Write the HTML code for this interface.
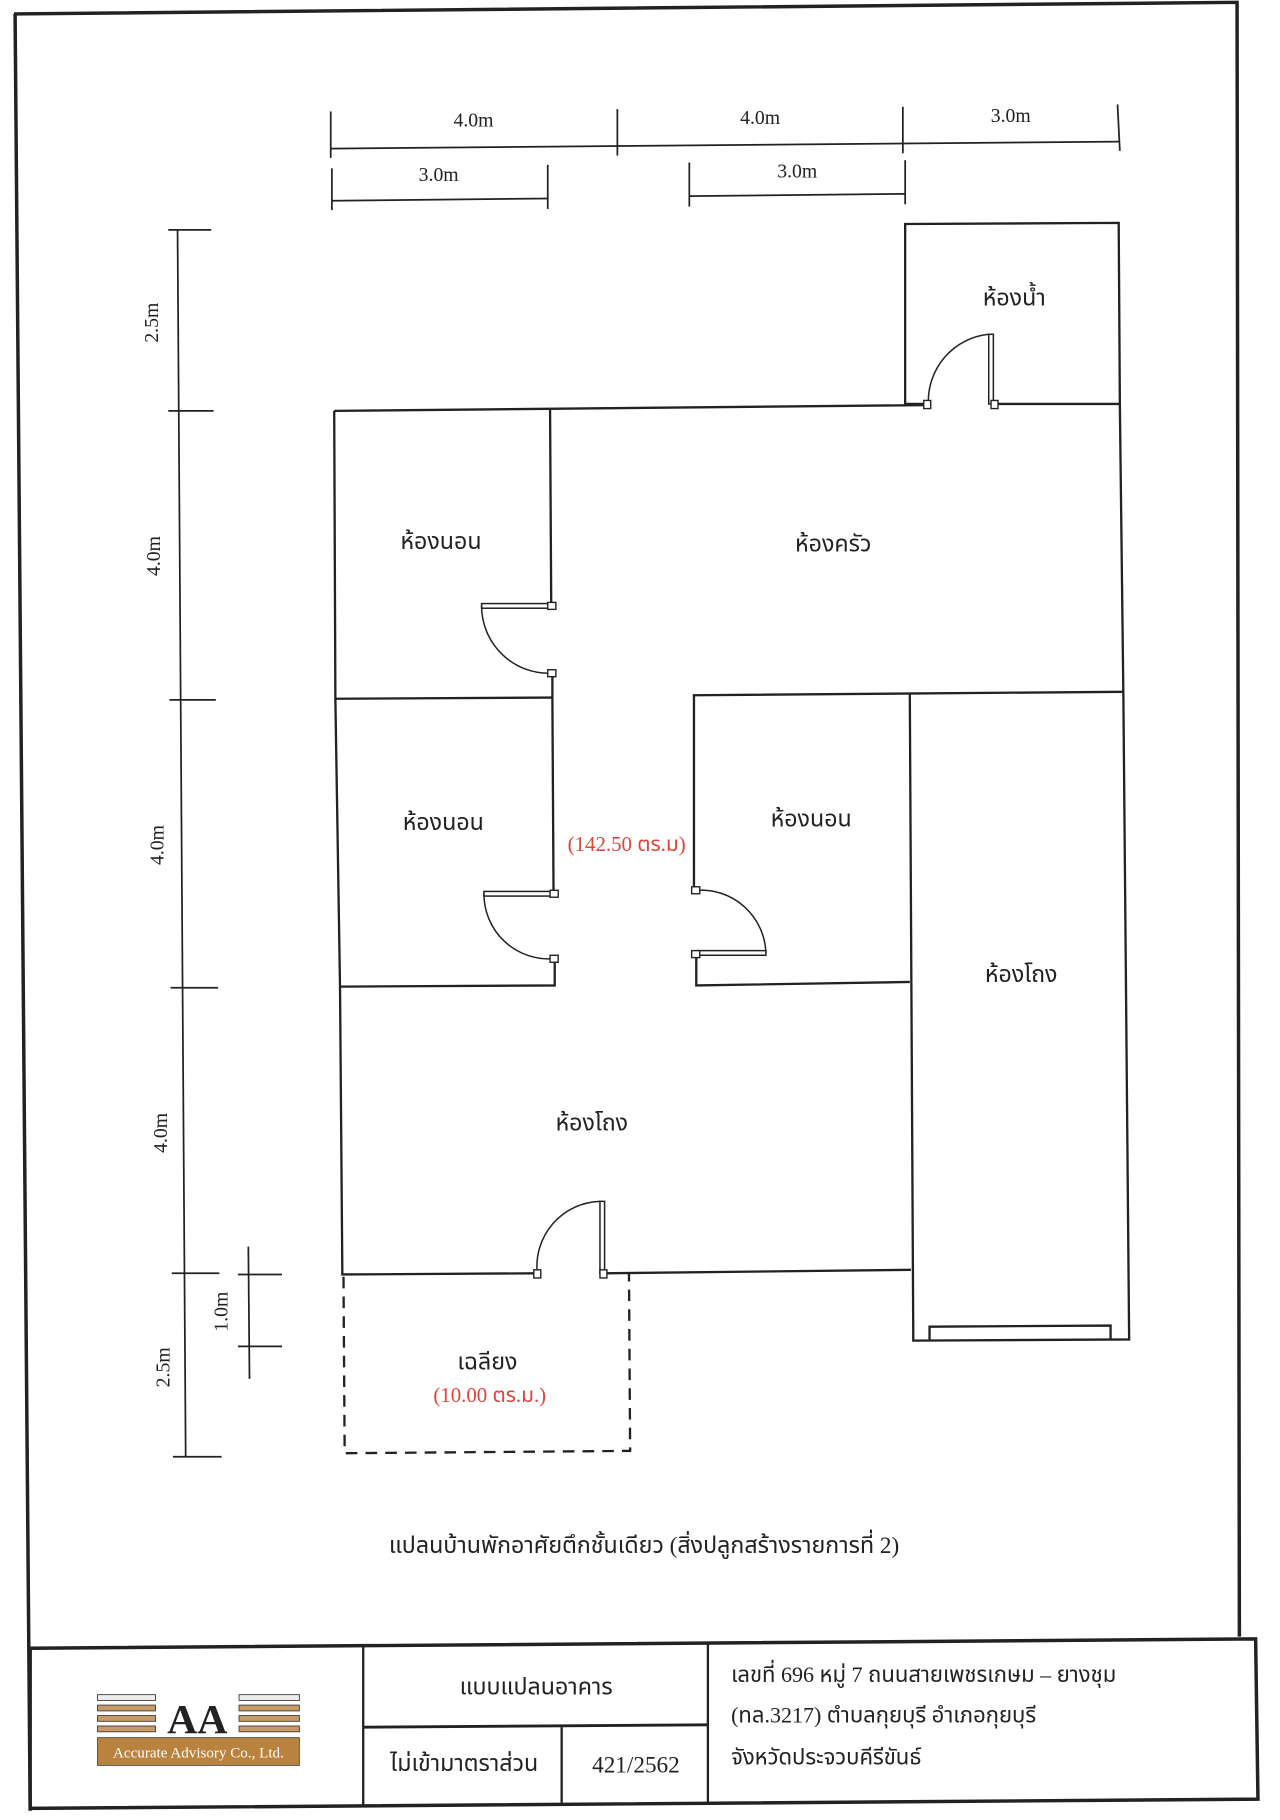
<!DOCTYPE html>
<html><head><meta charset="utf-8"><style>
html,body{margin:0;padding:0;background:#fff;width:1280px;height:1820px;overflow:hidden}
svg{display:block}
text{font-family:"Liberation Serif","DejaVu Serif",serif;fill:#222}
.t{font-family:"Liberation Serif","Noto Sans Thai","Loma","DejaVu Sans",serif}
</style></head><body>
<svg width="1280" height="1820" viewBox="0 0 1103 1568" preserveAspectRatio="none" xmlns="http://www.w3.org/2000/svg">
<g fill="none" stroke="#222" stroke-width="2">
<!-- page border -->
<path d="M12 12 L1066 2 L1068 1410" stroke-width="3"/>
<path d="M13 12 L26 1560" stroke-width="3"/>
<!-- title block -->
<path d="M26 1420 L1082 1412 L1084 1550 L26 1558 Z" stroke-width="3"/>
<line x1="313" y1="1418" x2="313" y2="1556"/>
<line x1="610" y1="1416" x2="610" y2="1553"/>
<line x1="313" y1="1488" x2="610" y2="1486" stroke-width="2.5"/>
<line x1="484" y1="1488" x2="484" y2="1555"/>
</g>
<g fill="none" stroke="#222" stroke-width="1.5">
<!-- top dims -->
<line x1="285" y1="128" x2="965" y2="122"/>
<line x1="285" y1="96" x2="285" y2="136"/><line x1="532" y1="94" x2="532" y2="134"/><line x1="778" y1="92" x2="778" y2="132"/><line x1="963" y1="90" x2="965" y2="130"/>
<line x1="286" y1="173" x2="472" y2="171"/>
<line x1="286" y1="145" x2="286" y2="181"/><line x1="472" y1="142" x2="472" y2="180"/>
<line x1="594" y1="169" x2="780" y2="167"/>
<line x1="594" y1="140" x2="594" y2="178"/><line x1="780" y1="138" x2="780" y2="176"/>
<!-- left dims -->
<line x1="153" y1="198" x2="160" y2="1255"/>
<line x1="145" y1="198" x2="182" y2="198"/>
<line x1="145" y1="354" x2="184" y2="354"/>
<line x1="146" y1="603" x2="186" y2="603"/>
<line x1="147" y1="851" x2="188" y2="851"/>
<line x1="148" y1="1097" x2="189" y2="1097"/>
<line x1="149" y1="1255" x2="191" y2="1255"/>
<line x1="214" y1="1074" x2="215" y2="1188"/>
<line x1="205" y1="1098" x2="243" y2="1098"/>
<line x1="205" y1="1160" x2="243" y2="1160"/>
</g>
<g fill="none" stroke="#222" stroke-width="2">
<!-- bathroom -->
<path d="M800 348 L780 348 L780 193 L964 192 L965 348 L858 348"/>
<!-- main top wall -->
<path d="M288 354 L800 349"/>
<!-- bedroom1 -->
<path d="M288 354 L289 602 L476 601"/>
<line x1="474" y1="353" x2="475" y2="522"/>
<line x1="476" y1="580" x2="476" y2="601"/>
<!-- kitchen right -->
<line x1="965" y1="348" x2="968" y2="597"/>
<!-- bedroom2 -->
<path d="M289 602 L293 850 L478 849 L478 826"/>
<line x1="476" y1="601" x2="477" y2="770"/>
<!-- bedroom3 -->
<path d="M598 767 L598 599 L968 596"/>
<path d="M600 822 L600 849 L784 846"/>
<!-- right living -->
<path d="M784 598 L787 1155 L973 1154 L968 596"/>
<path d="M801 1154 L801 1143 L957 1142 L957 1154"/>
<!-- lower living -->
<path d="M293 850 L295 1098 L463 1097"/>
<line x1="520" y1="1097" x2="785" y2="1094"/>
</g>
<!-- porch dashed -->
<path d="M296 1100 L297 1252 L543 1250 L542 1097" fill="none" stroke="#222" stroke-width="2" stroke-dasharray="10 7"/>
<!-- doors -->
<g fill="none" stroke="#222" stroke-width="1.3">
<rect x="852" y="288" width="4" height="60"/><path d="M852 288 A58 58 0 0 0 800 348"/>
<rect x="415" y="520" width="60" height="4"/><path d="M415 522 A58 58 0 0 0 475 580"/>
<rect x="417" y="768" width="60" height="4"/><path d="M417 770 A56 56 0 0 0 477 826"/>
<rect x="600" y="819" width="60" height="4"/><path d="M660 821 A56 56 0 0 0 600 767"/>
<rect x="517" y="1035" width="4" height="62"/><path d="M517 1035 A56 56 0 0 0 463 1097"/>
</g>
<g fill="#fff" stroke="#222" stroke-width="1.2">
<rect x="796" y="345" width="6" height="7"/><rect x="854" y="345" width="6" height="7"/>
<rect x="472" y="519" width="7" height="6"/><rect x="472" y="577" width="7" height="6"/>
<rect x="474" y="767" width="7" height="6"/><rect x="474" y="823" width="7" height="6"/>
<rect x="596" y="764" width="7" height="6"/><rect x="596" y="819" width="7" height="6"/>
<rect x="460" y="1094" width="6" height="7"/><rect x="517" y="1094" width="6" height="7"/>
</g>
<!-- dim labels -->
<g font-size="17" text-anchor="middle">
<text x="408" y="109">4.0m</text><text x="655" y="107">4.0m</text><text x="871" y="105">3.0m</text>
<text x="378" y="156">3.0m</text><text x="687" y="153">3.0m</text>
<text transform="translate(136,278) rotate(-90)">2.5m</text>
<text transform="translate(138,479) rotate(-90)">4.0m</text>
<text transform="translate(141,728) rotate(-90)">4.0m</text>
<text transform="translate(144,976) rotate(-90)">4.0m</text>
<text transform="translate(146,1178) rotate(-90)">2.5m</text>
<text transform="translate(196,1130) rotate(-90)">1.0m</text>
</g>
<!-- room labels -->
<g class="t" font-size="20" text-anchor="middle">
<text class="t" x="874" y="263">ห้องน้ำ</text>
<text class="t" x="380" y="473">ห้องนอน</text>
<text class="t" x="718" y="475">ห้องครัว</text>
<text class="t" x="382" y="715">ห้องนอน</text>
<text class="t" x="699" y="712">ห้องนอน</text>
<text class="t" x="880" y="846">ห้องโถง</text>
<text class="t" x="510" y="974">ห้องโถง</text>
<text class="t" x="420" y="1180">เฉลียง</text>
<text class="t" x="540" y="733" fill="#e0443a" style="fill:#e0443a" font-size="18">(142.50 ตร.ม)</text>
<text class="t" x="422" y="1208" style="fill:#e0443a" font-size="18">(10.00 ตร.ม.)</text>
<text class="t" x="555" y="1338" font-size="20">แปลนบ้านพักอาศัยตึกชั้นเดียว (สิ่งปลูกสร้างรายการที่ 2)</text>
<text class="t" x="462" y="1460" font-size="20">แบบแปลนอาคาร</text>
<text class="t" x="400" y="1526" font-size="20">ไม่เข้ามาตราส่วน</text>
<text class="t" x="548" y="1527" font-size="20">421/2562</text>
</g>
<g class="t" font-size="19">
<text class="t" x="630" y="1449">เลขที่ 696 หมู่ 7 ถนนสายเพชรเกษม – ยางชุม</text>
<text class="t" x="630" y="1484">(ทล.3217)  ตำบลกุยบุรี อำเภอกุยบุรี</text>
<text class="t" x="630" y="1520">จังหวัดประจวบคีรีขันธ์</text>
</g>
<!-- logo -->
<g>
<g fill="#c89a66" stroke="#444" stroke-width="0.8">
<rect x="84" y="1460" width="50" height="5" fill="#eee"/><rect x="84" y="1469" width="50" height="5"/><rect x="84" y="1478" width="50" height="5"/><rect x="84" y="1487" width="50" height="5"/>
<rect x="206" y="1460" width="52" height="5" fill="#eee"/><rect x="206" y="1469" width="52" height="5"/><rect x="206" y="1478" width="52" height="5"/><rect x="206" y="1487" width="52" height="5"/>
</g>
<text x="170" y="1493" font-size="36" text-anchor="middle" font-weight="bold" style="fill:#222">AA</text>
<rect x="84" y="1497" width="174" height="24" fill="#b9823f" stroke="#555" stroke-width="0.8"/>
<text x="171" y="1514" font-size="13" text-anchor="middle" style="fill:#fff">Accurate Advisory Co., Ltd.</text>
</g>
</svg>
</body></html>
